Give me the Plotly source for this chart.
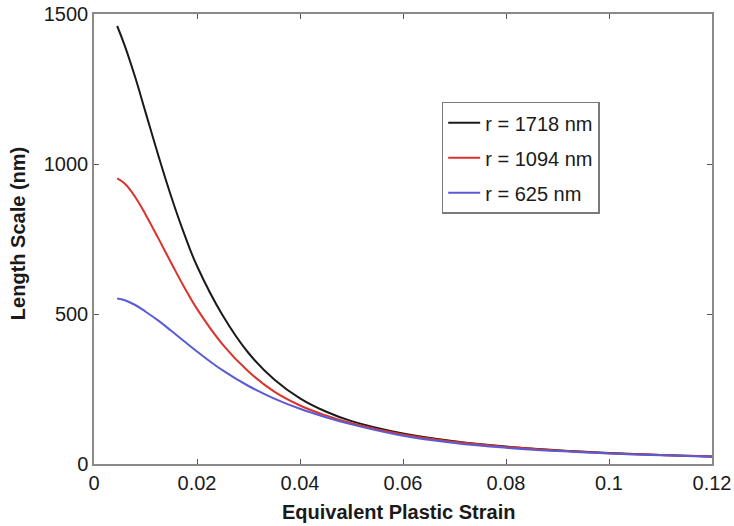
import plotly.graph_objects as go

strain = [0.0045, 0.006, 0.008, 0.010, 0.0125, 0.015, 0.0175, 0.02, 0.025, 0.03,
          0.035, 0.04, 0.045, 0.05, 0.06, 0.07, 0.08, 0.09, 0.10, 0.11, 0.12]

r1718 = [1460, 1393, 1289, 1173, 1028, 891, 768, 660, 495, 370,
         282, 219, 175, 143, 102, 76, 58, 46, 37, 30, 25]
r1094 = [952, 934, 890, 832, 752, 670, 590, 517, 398, 308,
         241, 195, 162, 136, 98, 74, 57, 45, 36, 30, 25]
r625 = [552, 546, 530, 508, 478, 444, 409, 375, 312, 260,
        218, 184, 156, 132, 94, 70, 54, 43, 35, 29, 24]

series_names = ["r = 1718 nm", "r = 1094 nm", "r = 625 nm"]
series_vals = [r1718, r1094, r625]
colors = ["#1a1a1a", "#dc322a", "#5b5bd6"]

x_ticks = [0, 0.02, 0.04, 0.06, 0.08, 0.1, 0.12]
x_ticktext = ["0", "0.02", "0.04", "0.06", "0.08", "0.1", "0.12"]
y_ticks = [0, 500, 1000, 1500]

FONT = "Liberation Sans, Arial, Helvetica, sans-serif"

fig = go.Figure()
for i, (name, vals, c) in enumerate(zip(series_names, series_vals, colors)):
    fig.add_trace(go.Scatter(
        x=strain, y=vals, mode="lines", name=name,
        line=dict(color=c, width=2, shape="spline", smoothing=1.2),
        legendgroup=f"g{i}",
    ))

axis_common = dict(
    showline=True, linecolor="#8a8a8a", linewidth=1.5, mirror="ticks",
    ticks="inside", ticklen=5, tickwidth=1.2, tickcolor="#555555",
    showgrid=False, zeroline=False, automargin=False,
    tickfont=dict(family=FONT, size=20, color="#1a1a1a"),
)

fig.update_layout(
    width=734, height=526,
    margin=dict(l=94, r=22, t=14, b=62),
    paper_bgcolor="white", plot_bgcolor="white",
    xaxis=dict(range=[0, 0.12], tickvals=x_ticks, ticktext=x_ticktext, **axis_common),
    yaxis=dict(range=[0, 1500], tickvals=y_ticks, **axis_common),
    showlegend=True,
    legend=dict(
        x=0.5626, y=0.805, xanchor="left", yanchor="top",
        bgcolor="white", bordercolor="#7a7a7a", borderwidth=1.5,
        font=dict(family=FONT, size=20, color="#1a1a1a"),
        tracegroupgap=6, itemwidth=32,
    ),
    annotations=[
        dict(text="<b>Equivalent Plastic Strain</b>", xref="paper", yref="paper",
             x=0.4935, y=-0.1067, xanchor="center", yanchor="middle", showarrow=False,
             font=dict(family=FONT, size=20, color="#1a1a1a")),
        dict(text="<b>Length Scale (nm)</b>", xref="paper", yref="paper",
             x=-0.123, y=0.513, xanchor="center", yanchor="middle", showarrow=False,
             textangle=-90, font=dict(family=FONT, size=20, color="#1a1a1a")),
    ],
)

fig.write_html("out.html")
